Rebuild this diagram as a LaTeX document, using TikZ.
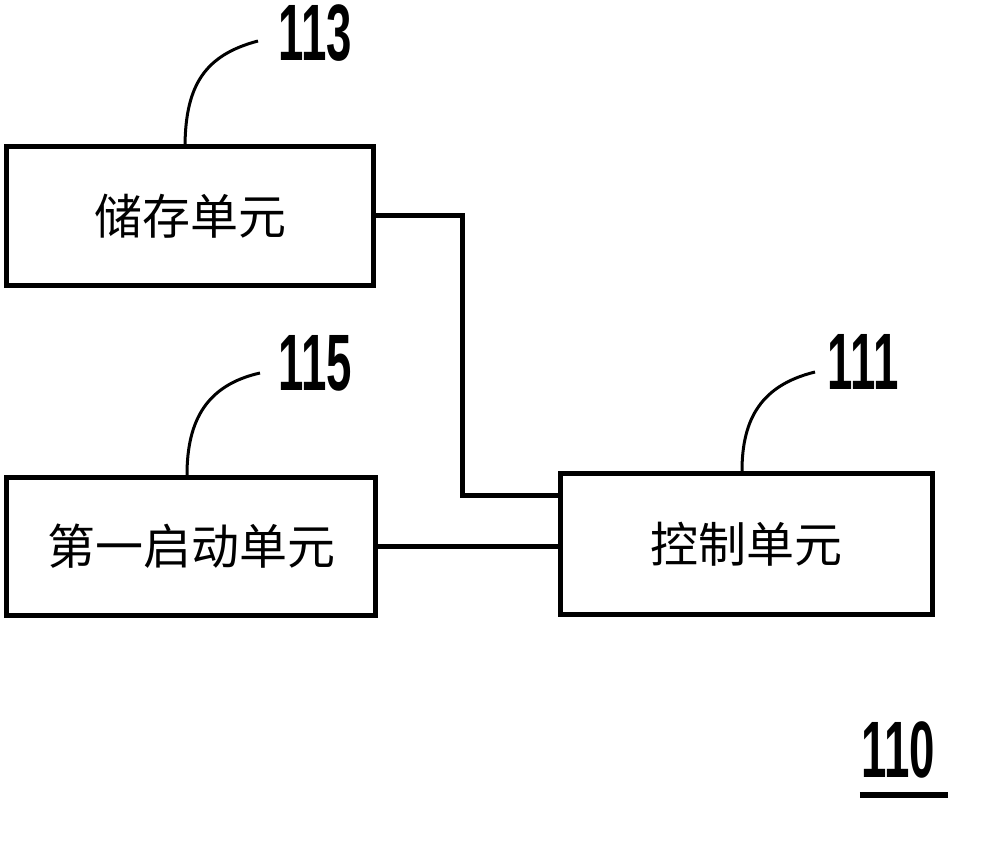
\documentclass[tikz,border=0pt]{standalone}
\usepackage{fontspec}
\setmainfont{Liberation Sans}
\newfontfamily\cjk{Noto Sans CJK SC}
\begin{document}
\begin{tikzpicture}[x=0.5pt,y=-0.5pt,
  unitbox/.style={draw, line width=2.5pt, inner sep=0pt, font=\cjk\fontsize{24}{24}\selectfont},
  refnum/.style={inner sep=0pt, font=\bfseries\fontsize{40}{40}\selectfont},
  wire/.style={line width=2.5pt},
  lead/.style={line width=1.5pt}]
\useasboundingbox[fill=white] (0,0) rectangle (995,850);

\node[unitbox, minimum width=183.5pt, minimum height=69.5pt] (store) at (190,216) {储存单元};
\node[unitbox, minimum width=184.5pt, minimum height=69pt] (start) at (191,546.5) {第一启动单元};
\node[unitbox, minimum width=186pt, minimum height=70.5pt] (ctrl) at (746.5,544) {控制单元};

\node[refnum] (n113) at (315,33) {\scalebox{0.57}[1]{113}};
\node[refnum] (n115) at (315,363) {\scalebox{0.57}[1]{115}};
\node[refnum] (n111) at (863,362) {\scalebox{0.57}[1]{111}};
\node[refnum] (n110) at (898,750) {\scalebox{0.57}[1]{110}};

\coordinate (bend) at (462,495);
\draw[wire] (store.east) -| (bend) -- (bend -| ctrl.west);
\draw[wire] (start.east) -- (start.east -| ctrl.west);

\coordinate (t113) at (258,41);
\coordinate (t115) at (260,373);
\coordinate (t111) at (815,372);
\draw[lead] (store.north -| 185,0) .. controls (186,85) and (205,55) .. (t113);
\draw[lead] (start.north -| 187,0) .. controls (187,420) and (207,385) .. (t115);
\draw[lead] (ctrl.north -| 742,0) .. controls (742,418) and (762,385) .. (t111);

\draw[line width=3pt] (n110.south west |- 0,795) ++(-1,0) -- (948,795);
\end{tikzpicture}
\end{document}
